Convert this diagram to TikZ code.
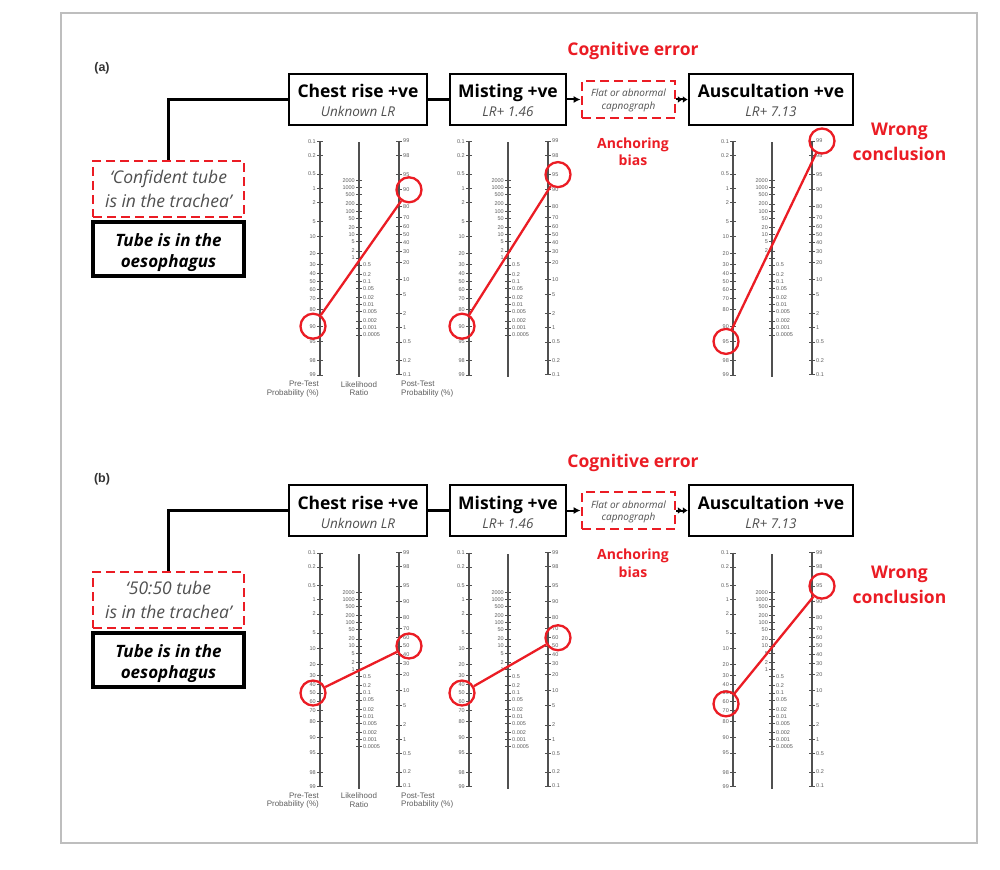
\documentclass[tikz,border=0pt]{standalone}
\usepackage{fontspec}
\setmainfont{Open Sans}
\newfontfamily\arialf{Liberation Sans}
\usetikzlibrary{arrows.meta}
\definecolor{myred}{RGB}{235,28,36}
\definecolor{axisgrey}{RGB}{80,80,80}
\definecolor{labgrey}{RGB}{95,95,95}
\definecolor{subgrey}{RGB}{80,80,80}
\definecolor{framegrey}{RGB}{190,190,190}
\tikzset{
  hbox/.style={draw=black, line width=2.5, minimum height=51, inner sep=0},
  rdash/.style={draw=myred, line width=2.8, dash pattern=on 9pt off 5pt, inner sep=0},
  truthbox/.style={draw=black, line width=3.2, inner sep=0},
  ttl/.style={font=\fontsize{17.5}{20}\selectfont\bfseries, anchor=base, inner sep=0},
  subtxt/.style={font=\fontsize{13.5}{16}\selectfont\itshape, text=subgrey, anchor=base, inner sep=0},
  tinytxt/.style={font=\fontsize{10}{12}\selectfont\itshape, text=subgrey, anchor=base, inner sep=0},
  beltxt/.style={font=\fontsize{17.5}{20}\selectfont\itshape, text=subgrey, anchor=base, inner sep=0},
  trtxt/.style={font=\fontsize{17}{20}\selectfont\bfseries\itshape, anchor=base, inner sep=0},
  redbig/.style={font=\fontsize{17.5}{20}\selectfont\bfseries, text=myred, anchor=base, inner sep=0},
  redmid/.style={font=\fontsize{14}{16}\selectfont\bfseries, text=myred, anchor=base, inner sep=0},
  plab/.style={font=\arialf\bfseries\fontsize{12.5}{14}\selectfont, text=black!80, inner sep=0},
  conn/.style={draw=black, line width=2.5},
  arr/.style={draw=black, line width=2, -{Latex[length=7pt,width=7pt]}},
  arrtwo/.style={draw=black, line width=2, -{Latex[length=5pt,width=7pt]Latex[length=5pt,width=7pt]}},
  ax/.style={draw=axisgrey, line width=1.2},
  tk/.style={draw=axisgrey, line width=0.8},
  ticklab/.style={font=\arialf\fontsize{5.5}{6}\selectfont, text=labgrey, inner sep=0},
  captxt/.style={font=\arialf\fontsize{8}{8.5}\selectfont, text=labgrey, inner sep=0},
  rc/.style={circle, draw=myred, line width=2.3, minimum size=25, inner sep=0},
  rl/.style={draw=myred, line width=2.3}
}
% nomogram: #1 name, #2 x of left axis, #3 top y, #4 pre, #5 post, #6 captions (1/0)
\newcommand\nomo[6]{%
\begin{scope}[shift={(#2,#3)}]
  \draw[ax] (0,0) -- (0,234);
  \draw[ax] (39,1.5) -- (39,236);
  \draw[ax] (79,0) -- (79,234);
  \foreach \p in {0.1,0.2,0.5,1,2,5,10,20,30,40,50,60,70,80,90,95,98,99} {
    \pgfmathsetmacro\yy{(ln(\p/(100-\p))+6.9068)*20.3445}
    \draw[tk] (-3,\yy) -- (3,\yy);
    \node[ticklab, anchor=east] at (-4,\yy) {\p};
    \pgfmathsetmacro\zz{(4.5951-ln(\p/(100-\p)))*20.3445}
    \draw[tk] (76,\zz) -- (82,\zz);
    \node[ticklab, anchor=west] at (83,\zz) {\p};
  }
  \foreach \r in {2000,1000,500,200,100,50,20,10,5,2,1} {
    \pgfmathsetmacro\yy{117-ln(\r)*10.1723}
    \draw[tk] (36,\yy) -- (42,\yy);
    \node[ticklab, anchor=east] at (35,\yy) {\r};
  }
  \foreach \r in {0.5,0.2,0.1,0.05,0.02,0.01,0.005,0.002,0.001,0.0005} {
    \pgfmathsetmacro\yy{117-ln(\r)*10.1723}
    \draw[tk] (36,\yy) -- (42,\yy);
    \node[ticklab, anchor=west] at (43,\yy) {\r};
  }
  \pgfmathsetmacro\ya{(ln(#4/(100-#4))+6.9068)*20.3445}
  \pgfmathsetmacro\yb{(4.5951-ln(#5/(100-#5)))*20.3445}
  \node[rc] (#1a) at (-7,\ya) {};
  \node[rc] (#1b) at (89,\yb) {};
  \draw[rl] (#1a) -- (#1b);
  \ifnum#6=1
    \node[captxt, anchor=north east, align=right] (#1c1) at (-1,240) {Pre-Test\\Probability (\%)};
    \node[captxt, anchor=north, align=center] (#1c2) at (39,240) {Likelihood\\Ratio};
    \node[captxt, anchor=north west, align=left] (#1c3) at (81,240) {Post-Test\\Probability (\%)};
  \fi
\end{scope}}
% panel: #1 prefix, #2 y shift, #3 label, #4 belief first line, #5 baseline of "Wrong" (relative)
\newcommand\panel[5]{%
\begin{scope}[shift={(0,#2)}]
  \node[plab] (#1lab) at (102,68) {(#3)};
  \node[hbox, minimum width=138] (#1chest) at (358,99.5) {};
  \node[ttl] (#1chestt) at (358,98) {Chest rise +ve};
  \node[subtxt] (#1chests) at (358,117) {Unknown LR};
  \node[hbox, minimum width=116] (#1mist) at (508,99.5) {};
  \node[ttl] (#1mistt) at (508,98) {Misting +ve};
  \node[subtxt] (#1mists) at (508,117) {LR+ 1.46};
  \node[rdash, minimum width=93, minimum height=37] (#1flat) at (628.5,99.5) {};
  \node[tinytxt] (#1flatt) at (628.5,97) {Flat or abnormal};
  \node[tinytxt] (#1flats) at (628.5,109.5) {capnograph};
  \node[hbox, minimum width=164] (#1ausc) at (771,99.5) {};
  \node[ttl] (#1ausct) at (771,98) {Auscultation +ve};
  \node[subtxt] (#1auscs) at (771,117) {LR+ 7.13};
  \draw[conn] (#1chest) -- (#1mist);
  \draw[arr] (#1mist) -- (#1flat);
  \draw[arrtwo] (#1flat) -- (#1ausc);
  \node[redbig] (#1cog) at (633,56) {Cognitive error};
  \node[redmid] (#1anc) at (633,148.5) {Anchoring};
  \node[redmid] (#1bias) at (633,166) {bias};
  \node[rdash, minimum width=151, minimum height=56] (#1belief) at (168.5,189) {};
  \node[beltxt] (#1bel1) at (168.5,183) {#4};
  \node[beltxt] (#1bel2) at (168.5,207) {is in the trachea’};
  \node[truthbox, minimum width=151, minimum height=54] (#1truth) at (168.5,249) {};
  \node[trtxt] (#1tr1) at (168.5,246) {Tube is in the};
  \node[trtxt] (#1tr2) at (168.5,267) {oesophagus};
  \draw[conn, line width=3] (#1belief.north) |- (#1chest.west);
  \node[redbig] (#1wr1) at (899.5,#5) {Wrong};
  \node[redbig] (#1wr2) at (899.5,#5+25) {conclusion};
\end{scope}}
\begin{document}
\begin{tikzpicture}[x=1pt,y=-1pt]
  \useasboundingbox (0,0) rectangle (1000,869);
  \fill[white] (0,0) rectangle (1000,869);
  \draw[framegrey, line width=2] (61,13) rectangle (977,843);
  \panel{a}{0}{a}{‘Confident tube}{135.5}
  \panel{b}{411}{b}{‘50:50 tube}{167.5}
  \nomo{ac}{320}{141}{90}{90}{1}
  \nomo{am}{469}{141}{90}{95}{0}
  \nomo{aa}{733}{141}{95}{99}{0}
  \nomo{bc}{320}{552.5}{50}{50}{1}
  \nomo{bm}{469}{552.5}{50}{60}{0}
  \nomo{ba}{733}{552.5}{63}{95}{0}
\end{tikzpicture}
\end{document}
